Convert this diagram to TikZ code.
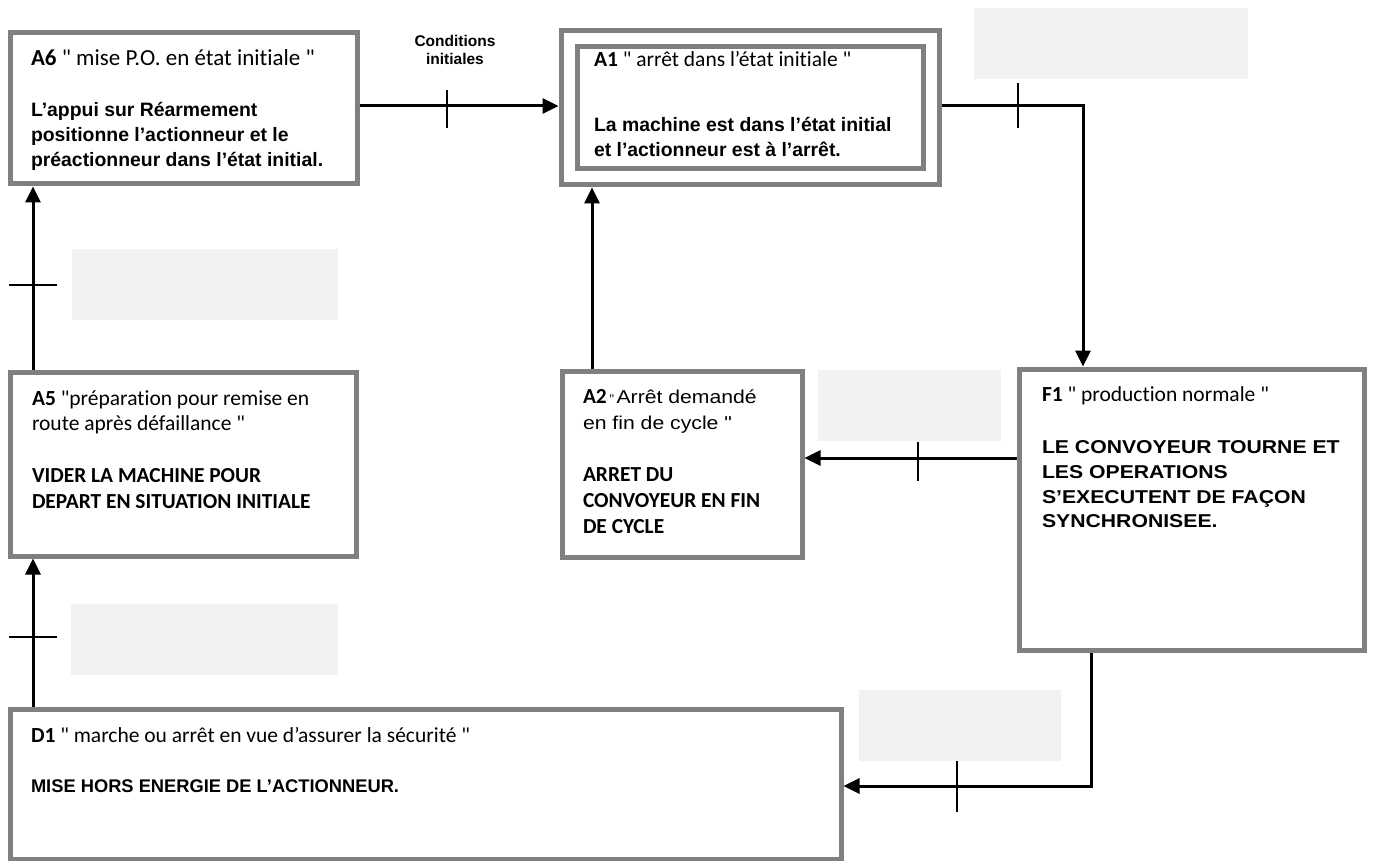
\documentclass[tikz,border=0pt]{standalone}
\usepackage{fontspec}
\setmainfont[Ligatures=NoCommon]{Carlito}
\newfontfamily\cb[Ligatures=NoCommon]{Carlito}
\newfontfamily\ar{Liberation Sans}
\newfontfamily\arw[FakeStretch=1.14]{Liberation Sans}
\usetikzlibrary{arrows.meta}
\definecolor{boxgray}{HTML}{7F7F7F}
\definecolor{ghost}{HTML}{F2F2F2}
\begin{document}
\begin{tikzpicture}[x=1pt,y=-1pt,
  stepbox/.style={draw=boxgray, line width=5pt, fill=white, rectangle, inner sep=0pt},
  ghostbox/.style={fill=ghost, rectangle, inner sep=0pt, draw=none},
  conn/.style={line width=3pt, -{Triangle[length=16pt,width=15pt]}},
  tick/.style={line width=2.6pt},
  txt/.style={anchor=base west, inner sep=0pt, outer sep=0pt},
  cal/.style={font=\cb\fontsize{21.5}{25}\selectfont},
  calb/.style={font=\cb\bfseries\fontsize{21.4}{25}\selectfont},
  arb/.style={font=\ar\bfseries\fontsize{19.4}{25}\selectfont},
  arwb/.style={font=\arw\bfseries\fontsize{18.6}{25}\selectfont},
]
\useasboundingbox (0,0) rectangle (1374,861);
\fill[white] (0,0) rectangle (1374,861);

% blank grey label boxes
\node[ghostbox, minimum width=274pt, minimum height=71pt] (g1) at (1111,43.5) {};
\node[ghostbox, minimum width=266pt, minimum height=71pt] (g2) at (205,284.5) {};
\node[ghostbox, minimum width=183pt, minimum height=71pt] (g3) at (909.5,405.5) {};
\node[ghostbox, minimum width=267pt, minimum height=71pt] (g4) at (204.5,639.5) {};
\node[ghostbox, minimum width=202pt, minimum height=71pt] (g5) at (960,725.5) {};

% boxes
\node[stepbox, minimum width=347pt, minimum height=151pt] (A6) at (183.5,108.5) {};
\node[stepbox, minimum width=378pt, minimum height=154pt] (A1) at (750,108) {};
\node[stepbox, minimum width=346pt, minimum height=122pt] (A1in) at (750,108) {};
\node[stepbox, minimum width=346pt, minimum height=184pt] (A5) at (183,464) {};
\node[stepbox, minimum width=240pt, minimum height=186pt] (A2) at (682,464) {};
\node[stepbox, minimum width=345pt, minimum height=281pt] (F1) at (1191.5,509.5) {};
\node[stepbox, minimum width=831pt, minimum height=150pt] (D1) at (425.5,784) {};

% helper coordinates
\coordinate (yTop) at (0,106);
\coordinate (c2) at (1083,106);
\coordinate (yMid) at (0,458);
\coordinate (xA2) at (592,0);
\coordinate (c5) at (1091,786);
\coordinate (xL) at (33,0);

% connectors
\draw[conn] (A6.east |- yTop) -- (A1.west |- yTop);
\draw[conn] (A1.east |- yTop) -- (c2) -- (c2 |- F1.north);
\draw[conn] (F1.west |- yMid) -- (A2.east |- yMid);
\draw[conn] (xA2 |- A2.north) -- (xA2 |- A1.south);
\draw[conn] (c5 |- F1.south) -- (c5) -- (D1.east |- c5);
\draw[conn] (xL |- D1.north) -- (xL |- A5.south);
\draw[conn] (xL |- A5.north) -- (xL |- A6.south);

% transition ticks
\coordinate (t1a) at (447,90);   \coordinate (t1b) at (447,128);
\coordinate (t2a) at (1018,83);  \coordinate (t2b) at (1018,128);
\coordinate (t3a) at (918,442);  \coordinate (t3b) at (918,481);
\coordinate (t4a) at (957,761);  \coordinate (t4b) at (957,812);
\coordinate (t5a) at (9,637);    \coordinate (t5b) at (57,637);
\coordinate (t6a) at (9,285);    \coordinate (t6b) at (57,285);
\draw[tick] (t1a) -- (t1b);
\draw[tick] (t2a) -- (t2b);
\draw[tick] (t3a) -- (t3b);
\draw[tick] (t4a) -- (t4b);
\draw[tick] (t5a) -- (t5b);
\draw[tick] (t6a) -- (t6b);

% label of first transition
\node[anchor=base, inner sep=0pt, font=\ar\bfseries\fontsize{15.5}{18}\selectfont] (cond1) at (455,47) {Conditions};
\node[anchor=base, inner sep=0pt, font=\ar\bfseries\fontsize{15.5}{18}\selectfont] (cond2) at (455,65) {initiales};

% A6 text
\node[txt, font=\cb\fontsize{23}{25}\selectfont] (a6t) at (31,66) {\textbf{A6} " mise P.O. en état initiale "};
\node[txt, arb] (a6b1) at (31,117) {L’appui sur Réarmement};
\node[txt, arb] (a6b2) at (31,142) {positionne l’actionneur et le};
\node[txt, arb] (a6b3) at (31,167) {préactionneur dans l’état initial.};

% A1 text
\node[txt, cal] (a1t) at (594,67) {\textbf{A1} " arrêt dans l’état initiale "};
\node[txt, arb] (a1b1) at (594,132) {La machine est dans l’état initial};
\node[txt, arb] (a1b2) at (594,157) {et l’actionneur est à l’arrêt.};

% A5 text
\node[txt, cal] (a5t1) at (32,405) {\textbf{A5} "préparation pour remise en};
\node[txt, cal] (a5t2) at (32,430) {route après défaillance "};
\node[txt, calb] (a5b1) at (32,482) {VIDER LA MACHINE POUR};
\node[txt, calb] (a5b2) at (32,508) {DEPART EN SITUATION INITIALE};

% A2 text
\node[txt] (a2t1) at (583,403) {{\cb\bfseries\fontsize{21.4}{25}\selectfont A2} {\cb\fontsize{13}{14}\selectfont "} {\arw\fontsize{18.6}{25}\selectfont Arrêt demandé}};
\node[txt, font=\arw\fontsize{18.6}{25}\selectfont] (a2t2) at (583,429) {en fin de cycle "};
\node[txt, calb] (a2b1) at (583,481) {ARRET DU};
\node[txt, calb] (a2b2) at (583,507) {CONVOYEUR EN FIN};
\node[txt, calb] (a2b3) at (583,533) {DE CYCLE};

% F1 text
\node[txt, cal] (f1t) at (1042,401) {\textbf{F1} " production normale "};
\node[txt, arwb] (f1b1) at (1042,453) {LE CONVOYEUR TOURNE ET};
\node[txt, arwb] (f1b2) at (1042,478) {LES OPERATIONS};
\node[txt, arwb] (f1b3) at (1042,503) {S’EXECUTENT DE FAÇON};
\node[txt, arwb] (f1b4) at (1042,527) {SYNCHRONISEE.};

% D1 text
\node[txt, cal] (d1t) at (31,742) {\textbf{D1} " marche ou arrêt en vue d’assurer la sécurité "};
\node[txt, font=\ar\bfseries\fontsize{18.3}{25}\selectfont] (d1b) at (31,792) {MISE HORS ENERGIE DE L’ACTIONNEUR.};
\end{tikzpicture}
\end{document}
